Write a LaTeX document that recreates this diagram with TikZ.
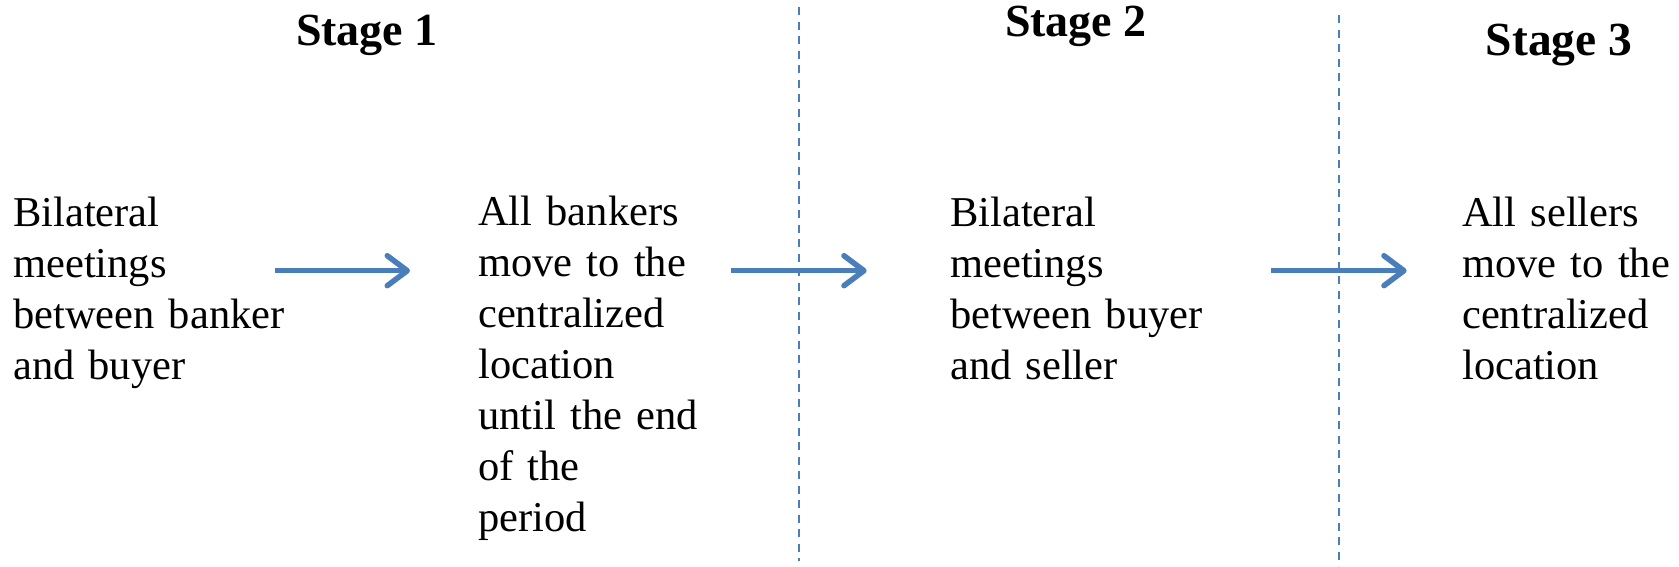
\documentclass[tikz,border=0pt]{standalone}
\usepackage{fontspec}
\setmainfont{Liberation Serif}
\usetikzlibrary{arrows.meta}
\definecolor{flowblue}{RGB}{74,126,187}
\tikzset{
  bodytext/.style={anchor=base west, inner sep=0pt, text width=300pt, align=left,
    font=\fontsize{42.5}{51}\selectfont},
  stagetitle/.style={anchor=base, inner sep=0pt, font=\fontsize{46}{52}\selectfont\bfseries},
  flowarrow/.style={draw=flowblue, line width=5.5pt,
    -{Straight Barb[length=20pt,width=30pt,round]}},
  divider/.style={draw=flowblue, line width=2pt, dash pattern=on 8pt off 6.5pt}
}
\begin{document}
\begin{tikzpicture}[x=1pt,y=-1pt]
\useasboundingbox (0,0) rectangle (1679,566);
% stage titles
\node[stagetitle] (s1) at (367,45) {Stage 1};
\node[stagetitle] (s2) at (1076,36) {Stage 2};
\node[stagetitle, font=\fontsize{47.5}{52}\selectfont\bfseries] (s3) at (1559,55) {Stage 3};
% text blocks
\node[bodytext] (b1) at (13,226) {Bilateral\\meetings\\between banker\\and buyer};
\node[bodytext] (b2) at (478,225) {All bankers\\move to the\\centralized\\location\\until the end\\of the\\period};
\node[bodytext] (b3) at (950,226) {Bilateral\\meetings\\between buyer\\and seller};
\node[bodytext] (b4) at (1462,226) {All sellers\\move to the\\centralized\\location};
% dividers
\coordinate (d1t) at (799,7);
\coordinate (d1b) at (799,561);
\coordinate (d2t) at (1339,15);
\coordinate (d2b) at (1339,566);
\draw[divider] (d1t) -- (d1b);
\draw[divider] (d2t) -- (d2b);
% arrows
\coordinate (a1s) at (275,270.7);
\coordinate (a1e) at (410,270.7);
\coordinate (a2s) at (731,270.7);
\coordinate (a2e) at (866.7,270.7);
\coordinate (a3s) at (1271,270.7);
\coordinate (a3e) at (1406.7,270.7);
\draw[flowarrow] (a1s) -- (a1e);
\draw[flowarrow] (a2s) -- (a2e);
\draw[flowarrow] (a3s) -- (a3e);
\end{tikzpicture}
\end{document}
